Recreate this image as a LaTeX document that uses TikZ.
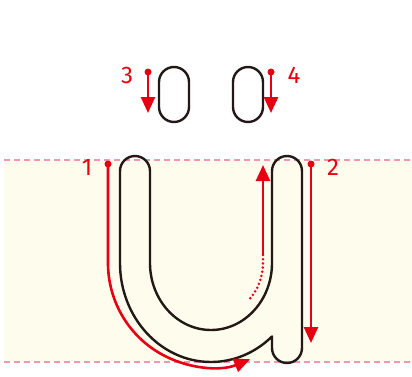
\documentclass[tikz,border=0pt]{standalone}
\usepackage{fontspec}
\setsansfont{Fira Sans}
\usetikzlibrary{arrows.meta}
\definecolor{StrokeRed}{RGB}{230,0,18}
\definecolor{GuidePink}{RGB}{242,150,180}
\definecolor{BandYellow}{RGB}{254,252,236}
\definecolor{InkBlack}{RGB}{35,24,21}

\begin{document}
\begin{tikzpicture}[x=1pt, y=1pt,
	outline/.style={line width=2.4pt, InkBlack, line join=round},
	stroke/.style={line width=2.6pt, StrokeRed, -{Triangle[length=16pt,width=14pt]}},
	dotpath/.style={line width=2.8pt, StrokeRed, line cap=round, dash pattern=on 0pt off 4.2pt},
	guide/.style={line width=1.2pt, GuidePink, dash pattern=on 6pt off 4pt},
	num/.style={StrokeRed, font=\sffamily\fontsize{24}{24}\selectfont}]
	\useasboundingbox (0,0) rectangle (412,376);
	
	% 四线格
	\fill[BandYellow] (4,14) rectangle (412,216);
	\draw[guide] (4,216) -- (412,216);
	\draw[guide] (4,14) -- (412,14);
	
	% 字母 u
	\draw[outline] (272,39.5) -- (272,28) arc[start angle=180, end angle=360, radius=15]
		-- (302,205) arc[start angle=0, end angle=180, radius=15]
		-- (272,113) arc[start angle=0, end angle=-180, x radius=61, y radius=67]
		-- (150,205) arc[start angle=0, end angle=180, radius=15]
		-- (120,113) arc[start angle=180, end angle=312.1, x radius=91, y radius=99] -- cycle;
	
	% 两点
	\draw[outline, rounded corners=15pt] (159,254) rectangle (189,309);
	\draw[outline, rounded corners=15pt] (233,254) rectangle (263,309);
	
	% 起点
	\coordinate (s1) at (108,212);
	\coordinate (s2) at (311,212);
	\coordinate (s3) at (148,304);
	\coordinate (s4) at (271,304);
	\coordinate (c1) at (108,113);
	\coordinate (u1) at (263,121);
	\coordinate (e1) at (263,211);
	\coordinate (e2) at (311,33);
	\coordinate (e3) at (148,263);
	\coordinate (e4) at (271,263);
	
	% 笔顺 1
	\draw[stroke] (s1) -- (c1) arc[start angle=180, end angle=292.3, x radius=103, y radius=104];
	\draw[dotpath] (u1) -- (263,113) arc[start angle=0, end angle=-45, x radius=52, y radius=54];
	\draw[stroke] (u1) -- (e1);
	
	% 笔顺 2, 3, 4
	\draw[stroke] (s2) -- (e2);
	\draw[stroke] (s3) -- (e3);
	\draw[stroke] (s4) -- (e4);
	
	\foreach \s in {s1,s2,s3,s4}
		\fill[StrokeRed] (\s) circle (3.5pt);
	
	\node[num] (n1) at (87,209) {1};
	\node[num] (n2) at (333,209) {2};
	\node[num] (n3) at (127,301) {3};
	\node[num] (n4) at (294,301) {4};
\end{tikzpicture}
\end{document}
